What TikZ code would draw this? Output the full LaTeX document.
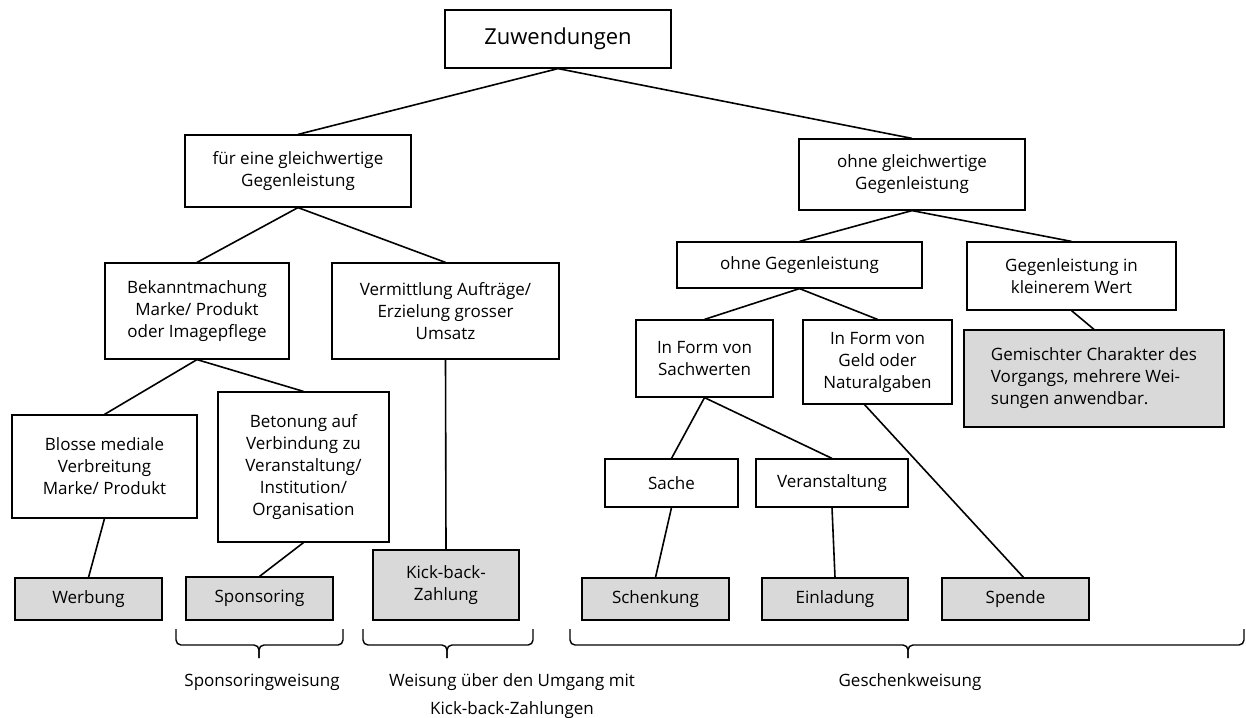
\documentclass[tikz,border=0pt]{standalone}
\usepackage{fontspec}
\setmainfont{Open Sans}
\usepackage{xcolor}
\usepackage{tikz}
\usetikzlibrary{calc}
\definecolor{leafgrey}{HTML}{D9D9D9}

\begin{document}
\begin{tikzpicture}[
  x=1pt, y=-1pt,
  font=\fontsize{17}{22}\selectfont,
  box/.style={draw, line width=1.2pt, align=center, inner sep=2pt},
  leaf/.style={box, fill=leafgrey},
  link/.style={line width=1.6pt},
  brace/.style={line width=1.4pt, rounded corners=5pt}
]
\useasboundingbox (0,0) rectangle (1246,717);
% tree levels
\node[box, minimum width=226pt, minimum height=58pt, font=\fontsize{22}{26}\selectfont] (zuw) at (558,39) {Zuwendungen};
\node[box, minimum width=226pt, minimum height=72pt] (fuer) at (298,171) {für eine gleichwertige\\Gegenleistung};
\node[box, minimum width=226pt, minimum height=71pt] (ohnegl) at (912,174.5) {ohne gleichwertige\\Gegenleistung};
\node[box, minimum width=184pt, minimum height=96pt] (bekannt) at (197,311) {Bekanntmachung\\Marke/ Produkt\\oder Imagepflege};
\node[box, minimum width=227pt, minimum height=96pt] (vermitt) at (445.5,311) {Vermittlung Aufträge/\\Erzielung grosser\\Umsatz};
\node[box, minimum width=245pt, minimum height=46pt] (ohnegeg) at (799.5,265) {ohne Gegenleistung};
\node[box, minimum width=209pt, minimum height=68pt] (kleiner) at (1071.5,276) {Gegenleistung in\\kleinerem Wert};
\node[box, minimum width=137pt, minimum height=77pt] (sachw) at (704.5,358.5) {In Form von\\Sachwerten};
\node[box, minimum width=149pt, minimum height=84pt] (geld) at (877.5,362) {In Form von\\Geld oder\\Naturalgaben};
\node[leaf, minimum width=260pt, minimum height=97pt, align=left] (gemischt) at (1094,378.5) {Gemischter Charakter des\\Vorgangs, mehrere Wei-\\sungen anwendbar.};
\node[box, minimum width=185pt, minimum height=103pt] (blosse) at (104.5,466.5) {Blosse mediale\\Verbreitung\\Marke/ Produkt};
\node[box, minimum width=171pt, minimum height=150pt] (betonung) at (303.5,467) {Betonung auf\\Verbindung zu\\Veranstaltung/\\Institution/\\Organisation};
\node[box, minimum width=133pt, minimum height=48pt] (sache) at (671.5,483) {Sache};
\node[box, minimum width=152pt, minimum height=48pt] (veranst) at (832,483) {Veranstaltung};
% leaves
\node[leaf, minimum width=147pt, minimum height=42pt] (werbung) at (88.5,599) {Werbung};
\node[leaf, minimum width=147pt, minimum height=43pt] (sponsor) at (259.5,598.5) {Sponsoring};
\node[leaf, minimum width=146pt, minimum height=70pt] (kickback) at (446,585) {Kick-back-\\Zahlung};
\node[leaf, minimum width=147pt, minimum height=42pt] (schenk) at (655.5,599) {Schenkung};
\node[leaf, minimum width=146pt, minimum height=42pt] (einlad) at (835,599) {Einladung};
\node[leaf, minimum width=147pt, minimum height=42pt] (spende) at (1015.5,599) {Spende};
% links
\draw[link] (zuw.south) -- (fuer.north);
\draw[link] (zuw.south) -- (ohnegl.north);
\draw[link] (fuer.south) -- (bekannt.north);
\draw[link] (fuer.south) -- (vermitt.north);
\draw[link] (bekannt.south) -- (blosse.north);
\draw[link] (bekannt.south) -- (betonung.north);
\draw[link] (blosse.south) -- (werbung.north);
\draw[link] (betonung.south) -- (sponsor.north);
\draw[link] (vermitt.south) -- (kickback.north);
\draw[link] (ohnegl.south) -- (ohnegeg.north);
\draw[link] (ohnegl.south) -- (kleiner.north);
\draw[link] (kleiner.south) -- (gemischt.north);
\draw[link] (ohnegeg.south) -- (sachw.north);
\draw[link] (ohnegeg.south) -- (geld.north);
\draw[link] (sachw.south) -- (sache.north);
\draw[link] (sachw.south) -- (veranst.north);
\draw[link] (sache.south) -- (schenk.north);
\draw[link] (veranst.south) -- (einlad.north);
\draw[link] ($(geld.south)+(-13,0)$) -- ($(spende.north)+(8,0)$);
% braces
\foreach \l/\r/\m in {176/343/259, 363/533/447, 570/1244/908}{
  \draw[brace] (\l,629) -- (\l,645) -- (\m,645) -- (\m,658);
  \draw[brace] (\r,629) -- (\r,645) -- (\m,645) -- (\m,658);
}
\node (lblspons) at (262,682) {Sponsoringweisung};
\node[align=center, font=\fontsize{17}{28}\selectfont] (lblkick) at (512,696) {Weisung über den Umgang mit\\Kick-back-Zahlungen};
\node (lblgeschenk) at (910,682) {Geschenkweisung};
\end{tikzpicture}
\end{document}
